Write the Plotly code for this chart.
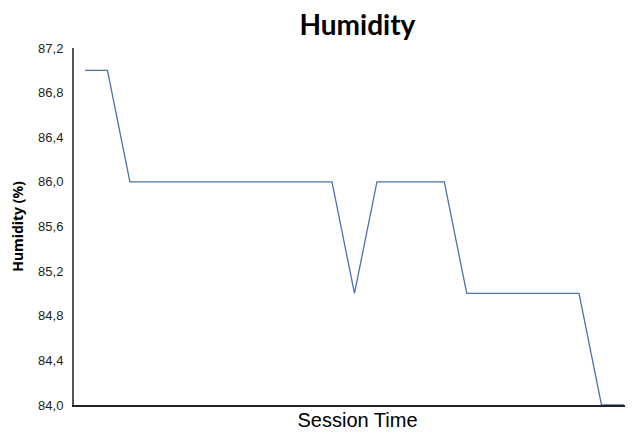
import plotly.graph_objects as go

sessions = list(range(1, 26))
humidity = [87, 87, 86, 86, 86, 86, 86, 86, 86, 86, 86, 86, 85, 86, 86, 86, 86,
            85, 85, 85, 85, 85, 85, 84, 84]
y_ticks = [84.0, 84.4, 84.8, 85.2, 85.6, 86.0, 86.4, 86.8, 87.2]

fig = go.Figure()
fig.add_trace(go.Scatter(x=sessions, y=humidity, mode="lines",
                         line=dict(color="#4a72b0", width=1.3),
                         cliponaxis=False, showlegend=False))

# the page body has an 8px margin, so the figure is offset by 8px; compensate
fig.update_layout(
    width=633, height=434,
    margin=dict(l=66, r=0, t=40, b=37, autoexpand=False),
    paper_bgcolor="white", plot_bgcolor="white",
    separators=",.",
    title=dict(text="<b>Humidity</b>", x=0.552, xanchor="center", y=0.961, yanchor="middle",
               font=dict(family="Lato", size=28, color="black")),
    xaxis=dict(range=[0.51, 25.76], showticklabels=False, showgrid=False, zeroline=False,
               automargin=False,
               showline=True, linecolor="#222", linewidth=1.5, ticks="",
               title=dict(text="Session Time", standoff=7,
                          font=dict(family="Arial", size=20, color="black"))),
    yaxis=dict(range=[84, 87.2], tickvals=y_ticks, tickformat=".1f", showgrid=False,
               automargin=False,
               zeroline=False, showline=True, linecolor="#555", linewidth=2, ticks="",
               ticklabelstandoff=6,
               tickfont=dict(family="Arial", size=13, color="#222"),
               title=dict(text="<b>Humidity (%)</b>", standoff=11,
                          font=dict(family="Noto Sans", size=14, color="black"))),
)

fig.write_html("out.html")
